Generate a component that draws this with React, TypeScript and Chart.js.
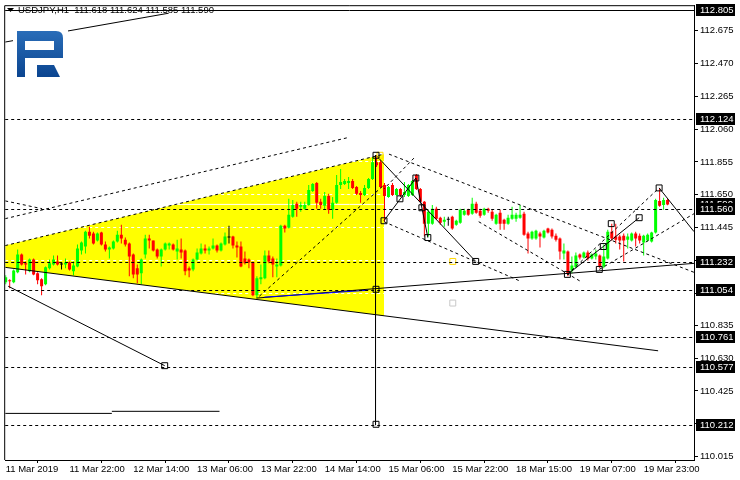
import React, { useEffect, useRef } from "react";
import { Chart, registerables } from "chart.js";

Chart.register(...registerables);

const FONT = "'Liberation Sans', Arial, sans-serif";
const FONT_SIZE = 9.5;

const titleText = "USDJPY,H1  111.618 111.624 111.585 111.590";

const xTickIndex = [0, 16, 32, 48, 64, 80, 96, 112, 128, 144, 160];
const xTickLabels = [
  "11 Mar 2019", "11 Mar 22:00", "12 Mar 14:00", "13 Mar 06:00", "13 Mar 22:00", "14 Mar 14:00",
  "15 Mar 06:00", "15 Mar 22:00", "18 Mar 15:00", "19 Mar 07:00", "19 Mar 23:00",
];
const yTickValues = [
  110.015, 110.22, 110.425, 110.63, 110.835, 111.035, 111.24, 111.445, 111.65, 111.855,
  112.06, 112.265, 112.47, 112.675,
];
const X_MIN = -0.125;
const X_MAX = 172.625;
const Y_MIN = 109.994;
const Y_MAX = 112.834;

const opens = [
  111.104, 111.116, 111.104, 111.166, 111.277, 111.222, 111.172, 111.246, 111.160, 111.122,
  111.091, 111.191, 111.215, 111.234, 111.215, 111.215, 111.228, 111.172, 111.203, 111.302,
  111.327, 111.420, 111.408, 111.364, 111.414, 111.339, 111.308, 111.315, 111.358, 111.401,
  111.370, 111.346, 111.277, 111.191, 111.160, 111.277, 111.377, 111.364, 111.308, 111.265,
  111.308, 111.333, 111.339, 111.296, 111.308, 111.302, 111.191, 111.184, 111.246, 111.284,
  111.315, 111.302, 111.315, 111.333, 111.302, 111.339, 111.383, 111.389, 111.333, 111.327,
  111.253, 111.246, 111.228, 111.023, 111.122, 111.129, 111.271, 111.253, 111.203, 111.209,
  111.457, 111.445, 111.513, 111.594, 111.575, 111.563, 111.587, 111.674, 111.724, 111.606,
  111.581, 111.643, 111.556, 111.600, 111.711, 111.718, 111.724, 111.736, 111.699, 111.662,
  111.649, 111.693, 111.749, 111.854, 111.854, 111.711, 111.637, 111.711, 111.649, 111.687,
  111.649, 111.643, 111.649, 111.773, 111.687, 111.606, 111.470, 111.470, 111.563, 111.507,
  111.482, 111.494, 111.513, 111.463, 111.476, 111.525, 111.556, 111.532, 111.594, 111.550,
  111.525, 111.563, 111.544, 111.470, 111.538, 111.494, 111.470, 111.501, 111.501, 111.507,
  111.532, 111.408, 111.377, 111.377, 111.408, 111.383, 111.439, 111.432, 111.395, 111.377,
  111.284, 111.296, 111.178, 111.197, 111.277, 111.259, 111.290, 111.253, 111.265, 111.271,
  111.203, 111.253, 111.420, 111.389, 111.389, 111.395, 111.370, 111.364, 111.408, 111.395,
  111.352, 111.364, 111.358, 111.414, 111.612, 111.587, 111.618,
];
const highs = [
  111.147, 111.122, 111.184, 111.308, 111.284, 111.234, 111.253, 111.253, 111.166, 111.129,
  111.203, 111.246, 111.271, 111.271, 111.228, 111.253, 111.234, 111.234, 111.339, 111.358,
  111.426, 111.451, 111.420, 111.414, 111.420, 111.358, 111.327, 111.364, 111.426, 111.463,
  111.383, 111.352, 111.284, 111.215, 111.253, 111.401, 111.401, 111.364, 111.315, 111.315,
  111.352, 111.352, 111.346, 111.370, 111.377, 111.308, 111.203, 111.253, 111.315, 111.346,
  111.339, 111.327, 111.377, 111.339, 111.352, 111.414, 111.457, 111.395, 111.358, 111.358,
  111.296, 111.253, 111.234, 111.141, 111.215, 111.302, 111.302, 111.265, 111.253, 111.463,
  111.463, 111.625, 111.618, 111.606, 111.606, 111.606, 111.711, 111.724, 111.730, 111.625,
  111.668, 111.656, 111.637, 111.773, 111.811, 111.749, 111.761, 111.749, 111.705, 111.674,
  111.711, 111.755, 111.885, 111.897, 111.866, 111.724, 111.705, 111.724, 111.693, 111.693,
  111.730, 111.718, 111.742, 111.780, 111.693, 111.612, 111.556, 111.587, 111.575, 111.513,
  111.513, 111.513, 111.519, 111.494, 111.563, 111.563, 111.563, 111.631, 111.606, 111.563,
  111.569, 111.569, 111.556, 111.532, 111.556, 111.501, 111.525, 111.575, 111.538, 111.587,
  111.544, 111.420, 111.426, 111.432, 111.420, 111.432, 111.445, 111.439, 111.408, 111.383,
  111.346, 111.302, 111.265, 111.290, 111.284, 111.296, 111.302, 111.284, 111.308, 111.277,
  111.339, 111.432, 111.470, 111.470, 111.401, 111.408, 111.408, 111.414, 111.420, 111.408,
  111.401, 111.408, 111.420, 111.625, 111.693, 111.631, 111.624,
];
const lows = [
  111.091, 111.067, 111.098, 111.160, 111.209, 111.153, 111.166, 111.147, 111.091, 111.023,
  111.085, 111.184, 111.209, 111.209, 111.184, 111.191, 111.178, 111.147, 111.197, 111.277,
  111.284, 111.377, 111.339, 111.358, 111.333, 111.296, 111.253, 111.308, 111.352, 111.346,
  111.327, 111.141, 111.129, 111.098, 111.091, 111.253, 111.315, 111.296, 111.253, 111.203,
  111.302, 111.308, 111.302, 111.246, 111.253, 111.147, 111.135, 111.172, 111.240, 111.277,
  111.284, 111.277, 111.308, 111.290, 111.296, 111.333, 111.346, 111.315, 111.259, 111.197,
  111.215, 111.191, 111.017, 111.005, 111.091, 111.122, 111.222, 111.135, 111.135, 111.203,
  111.414, 111.439, 111.507, 111.513, 111.544, 111.556, 111.581, 111.668, 111.563, 111.563,
  111.556, 111.532, 111.501, 111.594, 111.687, 111.711, 111.687, 111.687, 111.649, 111.600,
  111.643, 111.687, 111.742, 111.823, 111.693, 111.482, 111.631, 111.643, 111.643, 111.637,
  111.637, 111.637, 111.643, 111.680, 111.600, 111.389, 111.389, 111.463, 111.494, 111.463,
  111.451, 111.457, 111.432, 111.457, 111.470, 111.519, 111.519, 111.525, 111.532, 111.507,
  111.519, 111.538, 111.488, 111.463, 111.432, 111.432, 111.463, 111.494, 111.482, 111.501,
  111.395, 111.284, 111.370, 111.370, 111.321, 111.377, 111.408, 111.377, 111.358, 111.246,
  111.246, 111.141, 111.160, 111.191, 111.246, 111.253, 111.240, 111.246, 111.246, 111.191,
  111.191, 111.246, 111.364, 111.346, 111.308, 111.234, 111.315, 111.358, 111.327, 111.346,
  111.271, 111.358, 111.352, 111.408, 111.575, 111.556, 111.585,
];
const closes = [
  111.135, 111.110, 111.178, 111.277, 111.215, 111.215, 111.246, 111.153, 111.116, 111.079,
  111.197, 111.222, 111.246, 111.215, 111.215, 111.228, 111.184, 111.209, 111.315, 111.352,
  111.420, 111.395, 111.346, 111.408, 111.339, 111.308, 111.321, 111.358, 111.401, 111.377,
  111.339, 111.265, 111.153, 111.153, 111.246, 111.377, 111.364, 111.302, 111.265, 111.308,
  111.346, 111.346, 111.308, 111.315, 111.290, 111.172, 111.178, 111.246, 111.290, 111.315,
  111.302, 111.315, 111.333, 111.302, 111.346, 111.389, 111.383, 111.333, 111.321, 111.203,
  111.222, 111.228, 111.023, 111.129, 111.135, 111.271, 111.234, 111.215, 111.215, 111.457,
  111.439, 111.525, 111.587, 111.563, 111.587, 111.587, 111.680, 111.718, 111.600, 111.587,
  111.643, 111.556, 111.600, 111.711, 111.730, 111.736, 111.736, 111.693, 111.656, 111.649,
  111.693, 111.749, 111.854, 111.835, 111.699, 111.643, 111.699, 111.649, 111.687, 111.649,
  111.668, 111.711, 111.736, 111.687, 111.606, 111.470, 111.544, 111.563, 111.501, 111.476,
  111.494, 111.494, 111.439, 111.488, 111.556, 111.550, 111.525, 111.594, 111.538, 111.519,
  111.563, 111.550, 111.501, 111.525, 111.470, 111.470, 111.507, 111.525, 111.525, 111.525,
  111.401, 111.377, 111.420, 111.426, 111.389, 111.426, 111.414, 111.389, 111.370, 111.296,
  111.302, 111.160, 111.209, 111.271, 111.259, 111.290, 111.253, 111.277, 111.284, 111.203,
  111.265, 111.420, 111.377, 111.370, 111.364, 111.364, 111.389, 111.408, 111.377, 111.364,
  111.395, 111.401, 111.414, 111.618, 111.581, 111.618, 111.590,
];

// horizontal levels (price)
const dashedLevels = [112.124, 111.56, 111.232, 111.054, 110.761, 110.577, 110.212];
const solidLevels = [112.805];
const bidPrice = 111.59;
const axisBoxes = [112.805, 112.124, 111.56, 111.232, 111.054, 110.761, 110.577, 110.212];

// drawn objects: [barIndex1, price1, barIndex2, price2]
const solidTrendLines = [
  [-0.125, 112.604, 40.875, 112.784],
  [0.625, 111.079, 39.875, 110.583],
  [-0.125, 111.197, 163.625, 110.676],
  [62.875, 111.005, 172.625, 111.222],
  [-0.125, 110.285, 26.625, 110.285],
  [26.625, 110.298, 53.625, 110.298],
  [92.75, 111.897, 92.75, 110.212],
  [92.875, 111.897, 117.875, 111.234],
  [94.875, 111.488, 102.875, 111.755],
  [102.875, 111.755, 105.875, 111.383],
  [140.875, 111.153, 149.875, 111.327],
  [149.875, 111.327, 158.875, 111.507],
  [163.875, 111.693, 172.625, 111.42],
];
const blueTrendLines = [[64.875, 111.011, 90.875, 111.054]];
const dashedTrendLines = [
  [-0.125, 111.501, 86.125, 112.009],
  [-0.125, 111.333, 94.875, 111.904],
  [96.125, 111.904, 172.625, 111.166],
  [94.875, 111.482, 129.125, 111.11],
  [102.375, 111.879, 94.875, 111.687],
  [-0.125, 111.612, 9.125, 111.563],
  [63.625, 111.017, 94.875, 111.711],
  [140.875, 111.153, 163.875, 111.693],
  [148.875, 111.184, 172.625, 111.532],
  [118.625, 111.482, 144.125, 111.11],
];
const yellowTriangle = [
  [-0.125, 111.333],
  [94.875, 111.904],
  [94.875, 110.895],
  [-0.125, 111.197],
];
const blackSquares = [
  [39.875, 110.583], [92.875, 111.897], [92.875, 111.06], [92.875, 110.217], [94.875, 111.488],
  [98.875, 111.625], [102.875, 111.755], [104.375, 111.569], [105.875, 111.383], [117.875, 111.234],
  [140.875, 111.153], [148.875, 111.184], [149.875, 111.327], [151.875, 111.47], [158.875, 111.507],
  [163.875, 111.693],
];
const yellowSquares = [[93.875, 111.897], [112.125, 111.234]];
const graySquares = [[112.125, 110.974]];

const BULL = "#00ff00";
const BEAR = "#ff0000";
const DOJI = "#000000";

export default function App() {
  const ref = useRef<HTMLCanvasElement | null>(null);

  useEffect(() => {
    document.body.style.margin = "0";
    const canvas = ref.current;
    if (!canvas) return;

    const idx = opens.map((_, i) => i);
    const colors = idx.map((i) =>
      closes[i] > opens[i] ? BULL : closes[i] < opens[i] ? BEAR : DOJI
    );
    const seg = (l: number[]) => [
      { x: l[0], y: l[1] },
      { x: l[2], y: l[3] },
    ];
    const lineDs = (l: number[], color: string, dash: number[], order: number) => ({
      type: "line",
      data: seg(l),
      borderColor: color,
      borderWidth: 1,
      borderDash: dash,
      pointRadius: 0,
      fill: false,
      tension: 0,
      order,
    });
    const squareDs = (pts: number[][], color: string, order: number) => ({
      type: "line",
      data: pts.map((p) => ({ x: p[0], y: p[1] })),
      showLine: false,
      pointStyle: "rect",
      pointRadius: 4.2,
      pointBorderColor: color,
      pointBackgroundColor: "rgba(255,255,255,0)",
      pointBorderWidth: 1,
      order,
    });

    const datasets: any[] = [
      {
        type: "line",
        data: yellowTriangle.map((p) => ({ x: p[0], y: p[1] })),
        borderWidth: 0,
        pointRadius: 0,
        backgroundColor: "#ffff00",
        fill: "shape",
        order: 200,
      },
      lineDs([-1, bidPrice, 175, bidPrice], "#ffffff", [], 150),
      {
        type: "bar",
        data: idx.map((i) => ({ x: i, y: [lows[i], highs[i]] })),
        backgroundColor: colors,
        borderWidth: 0,
        barThickness: 1,
        grouped: false,
        inflateAmount: 0,
        order: 100,
      },
      {
        type: "bar",
        data: idx.map((i) => ({ x: i, y: [opens[i], closes[i]] })),
        backgroundColor: colors,
        borderWidth: 0,
        barThickness: 3,
        minBarLength: 1,
        grouped: false,
        inflateAmount: 0,
        order: 99,
      },
      ...dashedTrendLines.map((l) => lineDs(l, "#000000", [3, 3], 20)),
      ...solidTrendLines.map((l) => lineDs(l, "#000000", [], 10)),
      ...blueTrendLines.map((l) => lineDs(l, "#0000ff", [], 9)),
      squareDs(graySquares, "#c8c8c8", 3),
      squareDs(yellowSquares, "#ffd800", 2),
      squareDs(blackSquares, "#000000", 1),
    ];

    const decor = {
      id: "decor",
      beforeDraw(chart: any) {
        const ctx = chart.ctx;
        ctx.save();
        ctx.fillStyle = "#000";
        ctx.beginPath();
        ctx.moveTo(7, 8);
        ctx.lineTo(14, 8);
        ctx.lineTo(10.5, 12);
        ctx.closePath();
        ctx.fill();
        ctx.font = `${FONT_SIZE}px ${FONT}`;
        ctx.textBaseline = "middle";
        ctx.textAlign = "left";
        ctx.fillText(titleText, 18, 10.5);
        ctx.restore();
      },
      afterDatasetsDraw(chart: any) {
        const ctx = chart.ctx;
        const ys = chart.scales.y;
        const { left, right } = chart.chartArea;
        ctx.save();
        ctx.strokeStyle = "#000";
        ctx.lineWidth = 1;
        ctx.setLineDash([3, 3]);
        for (const v of dashedLevels) {
          const y = Math.round(ys.getPixelForValue(v)) + 0.5;
          ctx.beginPath();
          ctx.moveTo(left, y);
          ctx.lineTo(right, y);
          ctx.stroke();
        }
        ctx.setLineDash([]);
        for (const v of solidLevels) {
          const y = Math.round(ys.getPixelForValue(v)) + 0.5;
          ctx.beginPath();
          ctx.moveTo(left, y);
          ctx.lineTo(right, y);
          ctx.stroke();
        }
        ctx.restore();
      },
      afterDraw(chart: any) {
        const ctx = chart.ctx;
        const ys = chart.scales.y;
        const { left, top, right, bottom } = chart.chartArea;
        ctx.save();
        // frame
        ctx.strokeStyle = "#000";
        ctx.lineWidth = 1;
        ctx.beginPath();
        ctx.moveTo(left - 0.5, bottom);
        ctx.lineTo(left - 0.5, top + 0.5);
        ctx.lineTo(right + 1, top + 0.5);
        ctx.stroke();
        // logo
        ctx.fillStyle = "#ffffff";
        ctx.fillRect(13, 22, 55, 60);
        const g = ctx.createLinearGradient(0, 31, 0, 77);
        g.addColorStop(0, "#2a6db8");
        g.addColorStop(1, "#0b4590");
        ctx.fillStyle = g;
        ctx.beginPath();
        ctx.moveTo(17, 31);
        ctx.lineTo(56, 31);
        ctx.quadraticCurveTo(63, 31, 63, 38);
        ctx.lineTo(63, 58);
        ctx.lineTo(25, 58);
        ctx.lineTo(25, 77);
        ctx.lineTo(17, 77);
        ctx.closePath();
        ctx.moveTo(25, 41);
        ctx.lineTo(25, 50);
        ctx.lineTo(54, 50);
        ctx.lineTo(54, 41);
        ctx.closePath();
        ctx.fill("evenodd");
        ctx.beginPath();
        ctx.moveTo(37, 65);
        ctx.lineTo(54, 65);
        ctx.lineTo(60, 77);
        ctx.lineTo(37, 77);
        ctx.closePath();
        ctx.fill();
        // axis boxes
        ctx.font = `${FONT_SIZE}px ${FONT}`;
        ctx.textBaseline = "middle";
        ctx.textAlign = "left";
        const box = (v: number) => {
          const y = Math.round(ys.getPixelForValue(v));
          ctx.fillStyle = "#000";
          ctx.fillRect(right + 2, y - 6, 39, 12);
          ctx.fillStyle = "#fff";
          ctx.fillText(v.toFixed(3), right + 6, y + 0.5);
        };
        box(bidPrice);
        for (const v of axisBoxes) box(v);
        ctx.restore();
      },
    };

    const chart = new Chart(canvas, {
      type: "bar",
      data: { datasets },
      options: {
        responsive: false,
        animation: false,
        devicePixelRatio: 1,
        events: [],
        layout: { padding: { left: 3, top: 2, right: 0, bottom: 0 } },
        plugins: {
          legend: { display: false },
          tooltip: { enabled: false },
          filler: { drawTime: "beforeDraw" },
        },
        scales: {
          x: {
            type: "linear",
            position: "bottom",
            min: X_MIN,
            max: X_MAX,
            offset: false,
            afterBuildTicks: (s: any) => {
              s.ticks = xTickIndex.map((v) => ({ value: v }));
            },
            afterFit: (s: any) => {
              s.height = 20;
              s.paddingLeft = 0;
              s.paddingRight = 0;
            },
            ticks: {
              autoSkip: false,
              maxRotation: 0,
              minRotation: 0,
              align: "start",
              padding: 1,
              color: "#000",
              font: { family: FONT, size: FONT_SIZE },
              callback: (_v: any, i: number) => xTickLabels[i],
            },
            grid: { drawOnChartArea: false, tickLength: 3, color: "#000", tickColor: "#000" },
            border: { display: true, color: "#000", width: 1 },
          },
          y: {
            type: "linear",
            position: "right",
            min: Y_MIN,
            max: Y_MAX,
            afterBuildTicks: (s: any) => {
              s.ticks = yTickValues.map((v) => ({ value: v }));
            },
            afterFit: (s: any) => {
              s.width = 46;
              s.paddingTop = 0;
              s.paddingBottom = 0;
            },
            ticks: {
              autoSkip: false,
              padding: 2,
              color: "#000",
              font: { family: FONT, size: FONT_SIZE },
              callback: (v: any) => Number(v).toFixed(3),
            },
            grid: { color: "#ffffff", tickColor: "#000", tickLength: 4, lineWidth: 1 },
            border: { display: true, color: "#000", width: 1, dash: [3, 3] },
          },
        },
      } as any,
      plugins: [decor],
    } as any);

    return () => chart.destroy();
  }, []);

  return (
    <div style={{ width: 740, height: 480 }}>
      <canvas ref={ref} width={740} height={480} style={{ display: "block", width: 740, height: 480 }} />
    </div>
  );
}
